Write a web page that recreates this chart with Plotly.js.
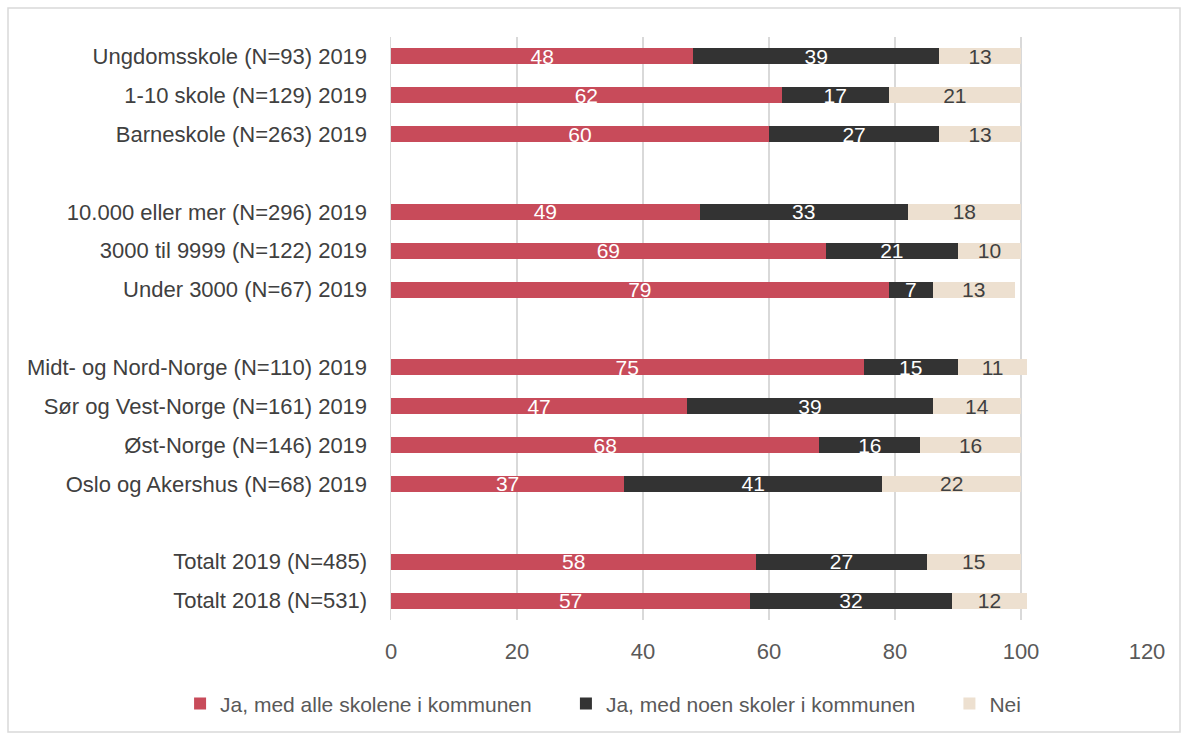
<!DOCTYPE html>
<html>
<head>
<meta charset="utf-8">
<script src="https://cdn.plot.ly/plotly-3.0.1.min.js"></script>
<style>html,body{margin:0;padding:0;background:#fff;}#chart{width:1188px;height:738px;}</style>
</head>
<body>
<div id="chart"></div>
<script>
// Categories top-to-bottom (blank entries are group separators)
const categories = [
  "Ungdomsskole (N=93) 2019",
  "1-10 skole (N=129) 2019",
  "Barneskole (N=263) 2019",
  " ",
  "10.000 eller mer (N=296) 2019",
  "3000 til 9999 (N=122) 2019",
  "Under 3000 (N=67) 2019",
  "  ",
  "Midt- og Nord-Norge (N=110) 2019",
  "Sør og Vest-Norge (N=161) 2019",
  "Øst-Norge (N=146) 2019",
  "Oslo og Akershus (N=68) 2019",
  "   ",
  "Totalt 2019 (N=485)",
  "Totalt 2018 (N=531)"
];
const jaAlle  = [48, 62, 60, null, 49, 69, 79, null, 75, 47, 68, 37, null, 58, 57];
const jaNoen  = [39, 17, 27, null, 33, 21, 7,  null, 15, 39, 16, 41, null, 27, 32];
const nei     = [13, 21, 13, null, 18, 10, 13, null, 11, 14, 16, 22, null, 15, 12];
const seriesNames = ["Ja, med alle skolene i kommunen", "Ja, med noen skoler i kommunen", "Nei"];
const xTicks = [0, 20, 40, 60, 80, 100, 120];

const FONT = "Liberation Sans, Arial, sans-serif";
const colors = ["#C84B5A", "#333333", "#EDE0D0"];
const textColors = ["#ffffff", "#ffffff", "#404040"];
const vals = [jaAlle, jaNoen, nei];
const PAD = "\u00a0\u00a0\u00a0\u00a0\u00a0";

const traces = vals.map((v, i) => ({
  type: "bar",
  orientation: "h",
  name: i < 2 ? seriesNames[i] + PAD : seriesNames[i],
  y: categories,
  x: v,
  text: v.map(d => d == null ? "" : String(d)),
  texttemplate: "%{text}",
  textposition: "inside",
  insidetextanchor: "middle",
  textangle: 0,
  constraintext: "none",
  textfont: {family: FONT, size: 21, color: textColors[i]},
  marker: {color: colors[i], line: {width: 0}},
  hoverinfo: "skip",
  cliponaxis: false
}));

const layout = {
  width: 1188, height: 738,
  margin: {l: 391, r: 41, t: 37, b: 118, autoexpand: false},
  barmode: "stack",
  bargap: 0.59,
  paper_bgcolor: "#ffffff",
  plot_bgcolor: "#ffffff",
  font: {family: FONT, color: "#595959", size: 21},
  showlegend: true,
  legend: {
    orientation: "h", xref: "paper", yref: "paper",
    x: -0.279, xanchor: "left", y: -0.144, yanchor: "middle",
    font: {family: FONT, size: 21, color: "#595959"},
    traceorder: "normal", bgcolor: "rgba(0,0,0,0)"
  },
  xaxis: {
    range: [0, 120], tickvals: xTicks, ticktext: xTicks.map(String),
    showgrid: true, gridcolor: "#d9d9d9", gridwidth: 1.5,
    zeroline: false, showline: false, ticks: "",
    ticklabelstandoff: 16,
    tickfont: {family: FONT, size: 22, color: "#595959"},
    fixedrange: true
  },
  yaxis: {
    type: "category", categoryorder: "array", categoryarray: categories,
    autorange: "reversed", showgrid: false, zeroline: false,
    showline: true, linecolor: "#d9d9d9", linewidth: 1.5, ticks: "",
    ticklabelstandoff: 18,
    tickfont: {family: FONT, size: 22, color: "#404040"},
    fixedrange: true
  },
  shapes: [{
    type: "rect", xref: "paper", yref: "paper",
    x0: -391/756 + 8/756, x1: 1 + 33/756, y0: -112/583, y1: 1 + 29/583,
    line: {color: "#d9d9d9", width: 1.5}, fillcolor: "rgba(0,0,0,0)", layer: "below"
  }]
};

Plotly.newPlot("chart", traces, layout, {staticPlot: true, displayModeBar: false});
</script>
</body>
</html>
